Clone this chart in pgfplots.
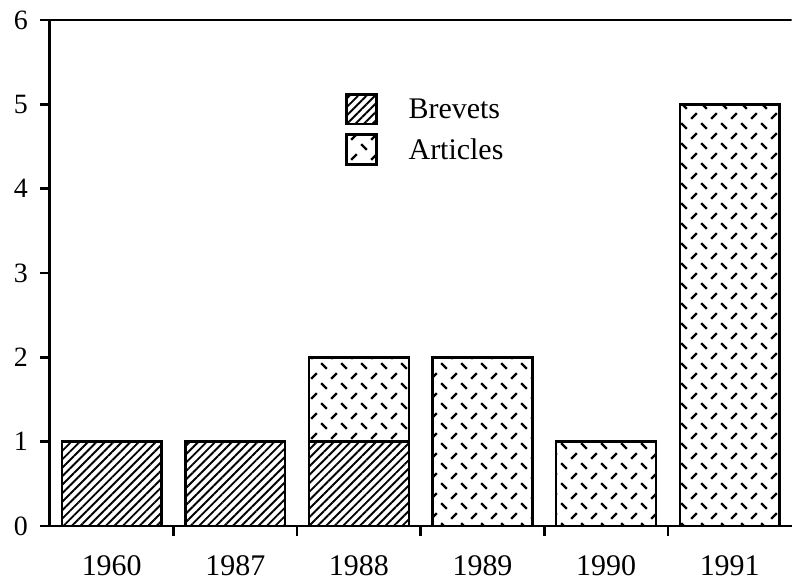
\documentclass[border=0pt]{standalone}
\usepackage{fontspec}
\setmainfont{Liberation Serif}
\usepackage{pgfplots}
\pgfplotsset{compat=1.18}
\usetikzlibrary{patterns.meta}

\tikzdeclarepattern{
  name=dashcross,
  type=uncolored,
  bottom left={(0pt,0pt)},
  top right={(20pt,20pt)},
  tile size={(20pt,20pt)},
  code={
    \pgfsetlinewidth{2.3pt}
    \pgfpathmoveto{\pgfpoint{2.2pt}{17.8pt}}\pgfpathlineto{\pgfpoint{7.8pt}{12.2pt}}
    \pgfpathmoveto{\pgfpoint{12.2pt}{2.2pt}}\pgfpathlineto{\pgfpoint{17.8pt}{7.8pt}}
    \pgfusepath{stroke}
  }
}

\begin{document}
\begin{tikzpicture}
\begin{axis}[
  scale only axis,
  width=743pt, height=507pt,
  ybar stacked,
  bar width=100pt,
  xmin=-0.5, xmax=5.5,
  ymin=0, ymax=6,
  axis lines*=left,
  axis line style={line width=3pt},
  tick align=outside,
  major tick length=10pt,
  tick style={line width=2.5pt, black},
  ytick={0,1,2,3,4,5,6},
  yticklabel style={font=\fontsize{28}{32}\selectfont, inner sep=0pt, xshift=-12pt},
  xtick={0.5,1.5,2.5,3.5,4.5},
  xticklabels={},
  extra x ticks={0,1,2,3,4,5},
  extra x tick labels={1960,1987,1988,1989,1990,1991},
  extra x tick style={major tick length=0pt,
    tick label style={font=\fontsize{30}{34}\selectfont, yshift=-26pt}},
  /pgf/number format/assume math mode=true,
  legend style={draw=none, fill=none, at={(0.398,0.856)}, anchor=north west,
    inner sep=0pt, font=\fontsize{30}{34}\selectfont, row sep=8pt},
  legend cell align=left,
  legend image code/.code={\draw[#1, line width=2.5pt] (0pt,-15pt) rectangle (30pt,15pt);},
]
\addplot[draw=black, line width=2.5pt, pattern={Lines[angle=45,distance=6pt,line width=1.9pt]}]
  coordinates {(0,1) (1,1) (2,1) (3,0) (4,0) (5,0)};
\addplot[draw=black, line width=2.5pt, pattern=dashcross]
  coordinates {(0,0) (1,0) (2,1) (3,2) (4,1) (5,5)};
\legend{\hspace{29pt}Brevets, \hspace{29pt}Articles}
\draw[line width=3pt] (rel axis cs:0,1) -- (rel axis cs:1,1);
\path (rel axis cs:0,1) ++(-50pt,20pt) coordinate (tl);
\path (rel axis cs:1,0) ++(0pt,-55pt) coordinate (br);
\end{axis}
\useasboundingbox (tl) rectangle (br);
\end{tikzpicture}
\end{document}
